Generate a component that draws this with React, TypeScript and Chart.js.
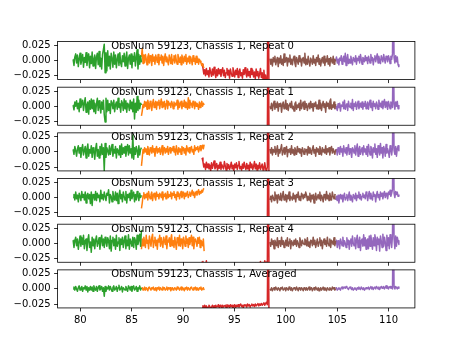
import React, { useEffect, useRef } from "react";
import { Chart, registerables } from "chart.js";

Chart.register(...registerables);

// ---------- figure layout ----------
const FIG_W = 461;
const FIG_H = 346;
const AX_LEFT = 57.6;
const AX_RIGHT = 414.9;
const PANEL_TOP = 41.52;
const PANEL_H = 38.06;
const PANEL_STEP = 45.67;

// ---------- axes ----------
const xMin = 77.79;
const xMax = 112.56;
const yMin = -0.0314;
const yMax = 0.0314;
const xTickValues = [80, 85, 90, 95, 100, 105, 110];
const xTickLabels = ["80", "85", "90", "95", "100", "105", "110"];
const yTickValues = [-0.025, 0, 0.025];
const yTickLabels = ["\u22120.025", "0.000", "0.025"];

const titleX = 83.0;
const panelTitles = [
  "ObsNum 59123, Chassis 1, Repeat 0",
  "ObsNum 59123, Chassis 1, Repeat 1",
  "ObsNum 59123, Chassis 1, Repeat 2",
  "ObsNum 59123, Chassis 1, Repeat 3",
  "ObsNum 59123, Chassis 1, Repeat 4",
  "ObsNum 59123, Chassis 1, Averaged",
];

// ---------- segments (x range of each coloured piece) ----------
const segmentColors = ["#2ca02c", "#ff7f0e", "#d62728", "#8c564b", "#9467bd"];
const segmentStart = [79.3, 85.95, 91.85, 98.45, 104.85];
const segmentEnd = [85.95, 92.05, 98.45, 104.85, 111.0];

// ---------- series values (units of 0.001) ----------
// Repeat 0
const rep0Green = [2, -8, 6, 11, -4, 9, -10, 3, 12, -6, 1, 10, -11, 5, -3, 13, -8, 4, 11, -12, 7, -5, 14, -9, 2, 9, -13, 6, 12, -7, 15, -10, 4, -14, 10, 18, 27, -20, 13, -17, 16, -9, 7, -14, 12, 3, -11, 14, -6, 9, -12, 2, 11, -8, 13, -4, -10, 8, -2, 12, -9, 5, 14, -13, 4, 9, -6, 11, -12, 7, -1, 13, -9, 5, 18, -14, 10, -6, 8, -3];
const rep0Orange = [6, 20, -5, 9, -3, 10, 3, -7, 6, 11, -4, 8, 2, -8, 10, -1, 6, -6, 9, 3, -3, 10, -7, 5, 1, 9, -4, 7, -8, 4, 11, -2, 6, -1, -7, 9, 3, -5, 10, -6, 2, 8, -4, 9, 0, -6, 10, 2, -3, 6, -7, 9, 3, -4, 7, -1, 10, -6, 4, -2, 7, -5, 6, 1, -7, 8, -1, 4, -6, 7, -3, 4, -6, 2, -1, -4, -8, -5, -10, -12];
const rep0Red = [-6, -12, -22, -15, -25, -13, -23, -17, -27, -12, -20, -26, -14, -24, -11, -21, -28, -15, -25, -13, -22, -15, -26, -18, -12, -25, -16, -28, -20, -13, -24, -16, -29, -14, -21, -26, -12, -19, -27, -16, -23, -13, -28, -18, -14, -25, -20, -29, -15, -23, -12, -21, -27, -14, -25, -18, -28, -13, -23, -16, -27, -19, -30, -14, -25, -18, -29, -22, -13, -28, -20, -31, -16, -33, -24, -36, -30, 150, -60, -40];
const rep0Brown = [3, -6, 2, -9, 5, -2, 7, -7, 0, 5, -10, 4, -4, 8, -6, 2, -8, 11, -3, 0, 5, -9, 4, -2, 9, -6, 2, -7, 3, 7, -4, -10, 5, 0, -6, 8, -2, 4, -9, 2, 5, -4, 12, -7, 2, -6, 7, -2, -9, 4, 0, -6, 8, -4, 2, -8, 5, -2, 9, -6, 3, -9, 0, 5, -4, 7, -8, 2, -2, 8, -6, 3, -9, 5, 0, -4, 7, -6, 2, -2];
const rep0Purple = [0, 6, -4, 2, -7, 4, 0, 8, -6, 2, 7, -2, 12, -8, 3, 10, -5, 2, -4, 7, 0, -7, 5, 2, -2, 8, -6, 4, 0, 7, -4, 10, 2, -6, 5, 3, -2, 8, 0, 5, -5, 7, 2, -4, 10, 0, 5, -7, 3, 8, -2, 5, 11, -4, 7, 0, -5, 8, 3, -2, 10, 2, -4, 7, 5, -2, 8, 3, -5, 7, 2, 11, 120, 5, -4, 8, -2, 6, -7, -10];
// Repeat 1
const rep1Green = [2, -6, 7, 0, 9, -4, 5, -9, 12, -2, 4, 10, -7, 5, 14, -10, 2, 7, -13, 9, -5, 12, -4, 10, -9, 5, -12, 4, 13, -7, 9, -2, -11, 7, -5, 10, -14, -26, 13, -9, 10, -7, 4, -12, 9, 5, -4, 10, -9, 2, 7, -5, 13, -2, 4, -10, 9, 5, -7, 12, -4, 9, -10, 5, 2, -7, 10, -4, 7, -9, 12, -21, 5, -10, 16, -7, 10, -4, 5, 2];
const rep1Orange = [-16, -8, 3, -2, 8, 0, 7, -5, 10, 3, -4, 8, 2, -7, 5, 11, -2, 4, 8, -5, 7, 2, 10, -4, 5, 12, -2, 7, 0, 8, -5, 4, 10, -4, 8, 2, 5, -2, 8, 4, -4, 7, 0, 5, 2, 10, -5, 7, -2, 4, 8, -4, 5, 0, 10, -2, 7, 4, -5, 14, -3, 10, 2, 5, -2, 8, 4, -4, 7, 0, 5, 2, -5, 7, -2, 4, 8, 0, 5, 2];
const rep1Red = [-40, -45, -38, -44, -41, -47, -39, -43, -46, -40, -44, -38, -42, -45, -41, -39, -46, -43, -40, -44, -42, -38, -45, -41, -43, -47, -39, -42, -44, -40, -46, -41, -43, -38, -45, -42, -40, -44, -41, -43, -39, -45, -42, -47, -40, -44, -38, -43, -46, -41, -44, -39, -42, -45, -40, -43, -47, -41, -38, -44, -42, -46, -40, -43, -39, -45, -41, -44, -38, -42, -45, -40, -43, -38, -46, -41, -44, 150, -60, -40];
const rep1Brown = [0, -4, 5, -7, 2, 8, -5, 4, -2, 7, -8, 4, 0, 5, -10, 2, 7, -4, 0, 10, -5, 4, -7, 2, 5, -2, 8, -4, 0, -8, 4, 7, -5, 2, -2, 5, -7, 10, -4, 2, 7, -5, 8, -2, 4, -7, 0, 5, -4, 8, -2, 4, -8, 5, 0, 7, -4, 2, -5, 10, -4, 5, -7, 2, 8, -2, 4, -10, 7, 0, 5, -4, 8, 12, -5, 2, -2, 7, -4, 4];
const rep1Purple = [-5, 0, -7, 4, -2, 5, -8, 2, 0, 7, -4, 10, -5, 2, 4, -7, 8, 0, -2, 5, -4, 11, -7, 4, 0, 7, -5, 2, 8, -4, 0, 5, -2, 7, -5, 4, 0, 8, -4, 2, 7, -5, 4, 10, -2, 5, -7, 8, 0, 4, -4, 7, 2, -5, 10, 0, 5, -2, 8, -4, 4, 11, -2, 7, 0, -5, 8, 2, -4, 7, 5, -2, 110, 4, -5, 7, 0, 8, -4, 2];
// Repeat 2
const rep2Green = [4, -4, 9, 2, -7, 5, 10, -2, 7, -9, 4, 12, -5, 2, 9, -10, 5, 13, -7, 4, -2, 10, -9, 7, 2, -12, 5, 14, -7, 4, -10, 9, -5, 13, -4, 7, -31, 14, -9, 7, 2, -5, 10, -4, 5, 12, -7, 4, -2, 9, -10, 5, 2, -5, 10, -9, 13, -4, 7, -2, 9, -7, 4, 12, -5, 10, -2, 5, -10, 28, -12, 7, -4, 9, 2, -9, 10, -5, 4, 7];
const rep2Orange = [-23, -10, 4, -2, 7, 0, 5, -4, 9, 2, -5, 7, 4, -2, 10, 0, 5, -7, 4, 9, -2, 5, 0, 7, -4, 2, 10, -5, 4, 7, -2, 5, 0, 9, -4, 4, 7, -2, 5, 2, 9, 0, 5, -5, 10, 2, -4, 7, 0, 5, -4, 9, 2, 7, -2, 5, -5, 10, 4, 0, 7, -2, 5, 9, 0, 4, -4, 10, 2, 7, 4, 9, 0, 5, 10, 2, 7, 11, 5, 12];
const rep2Red = [-10, -16, -25, -20, -29, -17, -26, -20, -28, -22, -31, -18, -27, -21, -15, -28, -25, -19, -30, -22, -27, -17, -29, -21, -25, -28, -16, -23, -30, -19, -27, -21, -29, -24, -17, -28, -22, -31, -20, -26, -18, -29, -22, -16, -28, -24, -30, -20, -27, -17, -25, -29, -19, -28, -22, -31, -17, -26, -20, -29, -24, -16, -28, -20, -30, -22, -27, -18, -29, -24, -20, -30, -26, -18, -28, -32, -25, 150, -60, -40];
const rep2Brown = [5, -2, 7, -5, 4, 0, 9, -4, 2, 10, -7, 4, -2, 5, 12, -5, 0, 7, -4, 2, 9, -8, 4, 0, 5, -4, 10, -2, 4, -5, 7, 2, -4, 9, 0, 5, -2, 4, -7, 7, 2, -4, 5, 0, 4, -5, 9, -2, 7, 2, -4, 5, 10, -2, 4, -7, 7, 0, 5, -4, 9, 2, -5, 7, 0, 4, -2, 10, -4, 5, 0, 7, -5, 4, 9, -2, 5, 0, -4, 4];
const rep2Purple = [0, 4, -5, 7, 2, -4, 9, 0, 5, -7, 10, 2, -2, 7, -5, 4, 12, -4, 5, 0, -9, 7, 4, -2, 10, -5, 5, 13, -7, 4, 9, -4, 2, 7, -5, 10, 0, 5, -4, 9, -7, 12, 2, -5, 9, 4, -10, 7, 0, 13, -4, 5, -9, 10, 2, -5, 14, -2, 7, -10, 9, 4, -7, 12, -2, 5, 0, -9, 10, 4, -5, 7, 125, 2, -4, 9, -7, 5, 10, 2];
// Repeat 3
const rep3Green = [0, 5, -4, 9, -2, 4, -7, 7, 2, -5, 10, 0, 5, -4, 9, -9, 4, 7, -2, 5, -10, 9, -13, 5, 2, -4, 10, -5, 7, 0, 4, -7, 12, -2, 5, -4, 9, 2, -5, 7, 4, 13, -9, 5, 2, -7, 10, 0, -4, 9, -5, 7, -10, 4, 12, -2, 5, -7, 9, 2, -4, 10, -9, 5, 0, 7, -5, 12, -2, 4, 9, -7, 5, -4, 10, 2, -5, 7, 0, 4];
const rep3Orange = [-18, -9, 3, 8, -2, 5, 0, 7, -4, 10, 2, -2, 5, 9, -5, 4, 7, 0, -4, 9, 2, 5, -2, 7, 4, 0, 9, -4, 5, 2, 7, -2, 4, 10, 0, 5, 2, 9, -2, 7, 4, 10, 0, 5, -4, 9, 2, 7, -2, 5, 10, 0, 4, 9, -2, 7, 2, 5, 10, 0, 5, 9, 2, 7, 12, 4, 9, 0, 7, 10, 4, 9, 13, 5, 10, 7, 12, 9, 14, 15];
const rep3Red = [-43, -47, -41, -46, -44, -49, -42, -45, -48, -43, -46, -40, -44, -47, -42, -45, -48, -43, -41, -46, -44, -49, -42, -45, -43, -47, -41, -44, -46, -42, -48, -45, -43, -40, -46, -44, -42, -47, -43, -45, -41, -44, -47, -42, -46, -43, -49, -41, -45, -44, -42, -46, -40, -45, -43, -48, -44, -41, -47, -43, -45, -42, -46, -44, -48, -41, -43, -47, -42, -45, -44, -40, -46, -43, -41, -45, -44, 150, -60, -40];
const rep3Brown = [-4, 2, -7, 4, 0, -5, 9, -2, 4, -9, 5, 0, -4, 7, -5, 2, 10, -4, 0, 5, -7, 4, -2, 9, -5, 2, 0, -4, 7, -2, 4, -7, 5, 0, 9, -4, 2, -5, 7, 4, -2, 5, 0, 9, 4, -5, 2, -4, 7, -7, 4, -2, 5, -9, 2, 7, -4, 0, 5, -2, 9, -5, 4, 0, -7, 5, 2, -4, 10, -2, 4, -5, 7, 0, -4, 9, 2, -2, 5, 4];
const rep3Purple = [-4, 2, -5, 4, -9, 0, 5, -2, 4, -7, 2, 7, -4, 0, 5, -5, 2, 9, -4, 4, 0, -7, 5, 2, -2, 7, -5, 4, 0, 9, -2, 5, -4, 2, 7, 0, 4, -2, 9, 5, -5, 4, 10, -2, 7, 0, -4, 9, 2, 5, -7, 4, 10, 0, 5, -4, 9, 2, 7, -2, 5, 10, 0, 7, 4, -2, 9, 5, 12, 2, 7, 13, 130, 7, 0, 10, 5, 9, 2, 5];
// Repeat 4
const rep4Green = [5, -7, 4, 10, -4, 7, -10, 2, 12, -5, 9, -2, 13, -9, 4, 7, -12, 5, 14, -7, 2, -15, 10, -4, 7, -9, 5, 12, -5, 2, 9, -10, 4, 13, -4, 7, -7, 10, 2, -5, 9, 4, -9, 12, -13, 5, 10, -4, 7, -10, 13, -5, 2, 9, -12, 7, -2, 10, -7, 4, 12, -9, 5, -4, 14, -10, 7, 2, -5, 10, -7, 9, 4, -10, 13, -2, 5, 15, -5, 22];
const rep4Orange = [-10, 7, -4, 10, 2, -7, 13, 0, 5, -9, 12, 4, -5, 9, 15, -7, 4, 10, -4, 5, -10, 7, 2, 13, -5, 9, 0, -7, 10, 4, -2, 12, -9, 5, 2, 9, -5, 7, 14, -4, 4, -7, 10, 0, -10, 9, 5, -4, 13, -5, 7, 2, -9, 10, 4, -5, 12, 0, 7, -7, 9, -2, 5, 13, -4, 10, -9, 4, 7, 2, -5, 9, 0, 10, -7, 5, 2, -4, 7, -13];
const rep4Red = [-30, -38, -35, -41, -36, -29, -42, -37, -40, -36, -38, -43, -35, -39, -41, -37, -40, -36, -42, -38, -34, -39, -41, -37, -40, -38, -43, -36, -39, -35, -41, -38, -40, -36, -39, -37, -42, -35, -38, -33, -40, -36, -42, -38, -35, -41, -37, -39, -43, -36, -38, -34, -40, -37, -41, -35, -39, -42, -36, -38, -41, -37, -33, -39, -36, -40, -34, -38, -30, -35, -37, -32, -36, -29, -34, -31, -35, 150, -60, -40];
const rep4Brown = [2, -5, 7, -2, 4, -9, 5, 0, -4, 9, -7, 4, 2, -5, 10, -2, 4, -7, 0, 5, -4, 9, -5, 2, 7, -9, 4, 0, -4, 5, -2, 7, -5, 4, 0, -7, 9, 2, -4, 5, 0, -2, 7, 4, -4, 9, -5, 2, -7, 5, 4, -4, 10, -2, 5, -7, 0, 7, -5, 2, 9, -4, 5, -9, 2, 7, -2, 4, -5, 10, 0, -4, 7, -7, 5, 2, -2, 9, -4, 4];
const rep4Purple = [-2, 5, -7, 4, 0, -9, 7, 2, -4, 10, -5, 4, 0, -7, 9, -2, 5, -10, 4, 7, -5, 12, 0, -4, 9, -9, 5, 13, -7, 2, 10, -12, 4, 7, -5, 14, -4, 9, -10, 5, 7, -9, 12, -5, 13, 2, -10, 9, -4, 14, 5, -12, 10, -2, 7, -13, 12, 4, -7, 15, -5, 10, 2, -12, 13, -4, 9, -9, 14, 4, -7, 12, 140, 7, -9, 12, -5, 10, 4, -2];
// Averaged
const avgGreen = [0, 3, -2, 4, 0, -4, 2, 5, -2, 1, 4, -4, 2, 0, 5, -2, 4, -5, 2, -2, 4, -2, 3, -4, 5, 0, -2, 4, -4, 2, 5, -2, 0, 4, -4, 2, -12, 4, -4, 2, 0, 5, -2, 4, 0, -4, 2, 5, -2, 0, 4, -4, 2, 6, -2, 0, 4, -5, 2, 0, -2, 4, 0, -4, 5, 2, -2, 4, -4, 2, 5, -2, 0, 4, -4, 2, 0, 5, -2, 2];
const avgOrange = [0, 2, -2, 0, 3, -2, 2, 0, -3, 2, 3, 0, -2, 2, 0, 3, -2, 0, 2, -3, 2, 0, 3, -2, 2, 0, -2, 3, 0, 2, -2, 0, 3, -2, 2, 0, 2, -3, 0, 2, -2, 0, 2, 0, -2, 3, 0, 2, -2, 0, 3, -2, 2, 0, -3, 2, 0, 3, -2, 2, 0, -2, 2, 3, 0, -2, 2, 0, 3, -2, 2, 0, -2, 2, 0, 3, -2, 0, 2, -2];
const avgRed = [-31, -28, -32, -27, -31, -28, -33, -30, -27, -29, -32, -30, -27, -31, -28, -32, -27, -30, -29, -26, -31, -27, -29, -32, -27, -30, -28, -27, -31, -26, -29, -27, -31, -26, -29, -27, -32, -29, -26, -31, -27, -29, -26, -30, -27, -25, -29, -27, -31, -26, -28, -26, -30, -25, -28, -26, -30, -27, -25, -28, -26, -29, -25, -28, -26, -24, -28, -25, -27, -24, -27, -25, -23, -27, -24, -22, -26, 150, -60, -40];
const avgBrown = [0, -2, 2, -3, 0, 2, -2, 3, 0, -2, 2, 0, -3, 2, 0, 3, -2, 0, 2, -3, 2, 0, -2, 3, 0, -2, 2, -3, 0, 2, 0, -2, 3, 0, -3, 2, 0, -2, 2, 0, -3, 2, 0, -2, 2, -2, 0, 3, -2, 0, 2, -3, 0, 2, -2, 3, 0, -2, 2, -3, 0, 2, -2, 0, 3, -2, 2, 0, -3, 2, 0, -2, 2, 0, -2, 3, 0, 2, -2, 0];
const avgPurple = [0, 2, -2, 0, 2, 0, -2, 2, 3, 0, 2, 3, 1, 4, 2, 1, -1, 2, 3, 1, -1, 2, -2, 0, 2, 0, -2, 2, 0, 3, 1, -1, 3, 1, -1, 2, -2, 0, 2, 0, 1, 3, -1, 2, 4, 0, 3, -1, 2, 3, 0, 4, 2, 0, 3, -1, 2, 4, 1, 3, 4, 0, 2, 5, 1, 4, 0, 3, 4, 1, 3, 0, 130, 3, 0, 4, 2, 0, 3, 1];

const panelSeries: number[][][] = [
  [rep0Green, rep0Orange, rep0Red, rep0Brown, rep0Purple],
  [rep1Green, rep1Orange, rep1Red, rep1Brown, rep1Purple],
  [rep2Green, rep2Orange, rep2Red, rep2Brown, rep2Purple],
  [rep3Green, rep3Orange, rep3Red, rep3Brown, rep3Purple],
  [rep4Green, rep4Orange, rep4Red, rep4Brown, rep4Purple],
  [avgGreen, avgOrange, avgRed, avgBrown, avgPurple],
];

const FONT = '"DejaVu Sans", "Liberation Sans", sans-serif';
const X_AXIS_BOX = 30;

function Panel({ index }: { index: number }) {
  const ref = useRef<HTMLCanvasElement>(null);

  useEffect(() => {
    if (!ref.current) return;
    const top = PANEL_TOP + index * PANEL_STEP;
    const bottom = top + PANEL_H;
    const isLast = index === panelSeries.length - 1;

    const datasets = panelSeries[index].map((vals, s) => ({
      data: vals.map((v, i) => ({
        x: segmentStart[s] + ((segmentEnd[s] - segmentStart[s]) * i) / (vals.length - 1),
        y: v * 0.001,
      })),
      borderColor: segmentColors[s],
      backgroundColor: segmentColors[s],
      borderWidth: 1.5,
      borderJoinStyle: "round" as const,
      pointRadius: 0,
      fill: false,
      tension: 0,
      clip: 0,
    }));

    const framePlugin = {
      id: "frame" + index,
      afterDatasetsDraw(chart: any) {
        const { ctx, chartArea: a, scales } = chart;
        ctx.save();
        ctx.strokeStyle = "#000";
        ctx.lineWidth = 0.8;
        ctx.strokeRect(a.left, a.top, a.right - a.left, a.bottom - a.top);
        ctx.fillStyle = "#000";
        ctx.font = `10px ${FONT}`;
        ctx.textAlign = "left";
        ctx.textBaseline = "alphabetic";
        ctx.fillText(panelTitles[index], scales.x.getPixelForValue(titleX), a.top + 7.6);
        ctx.restore();
      },
    };

    const chart = new Chart(ref.current, {
      type: "line",
      data: { datasets },
      options: {
        animation: false,
        responsive: false,
        devicePixelRatio: 1,
        events: [],
        layout: {
          padding: {
            left: 0,
            right: FIG_W - AX_RIGHT,
            top: top,
            bottom: FIG_H - bottom - X_AXIS_BOX,
          },
        },
        plugins: {
          legend: { display: false },
          tooltip: { enabled: false },
          title: { display: false },
        },
        scales: {
          x: {
            type: "linear",
            min: xMin,
            max: xMax,
            afterBuildTicks: (scale: any) => {
              scale.ticks = xTickValues.map((v) => ({ value: v }));
            },
            afterFit: (scale: any) => {
              scale.height = X_AXIS_BOX;
            },
            border: { display: false },
            grid: {
              drawOnChartArea: false,
              drawTicks: true,
              tickLength: 3.5,
              color: "#000",
              lineWidth: 0.8,
            },
            ticks: {
              autoSkip: false,
              maxRotation: 0,
              minRotation: 0,
              padding: 2.5,
              color: isLast ? "#000" : "rgba(0,0,0,0)",
              font: { family: FONT, size: 10 },
              callback: (value: any) => {
                const k = xTickValues.indexOf(Number(value));
                return k >= 0 ? xTickLabels[k] : "";
              },
            },
          },
          y: {
            type: "linear",
            min: yMin,
            max: yMax,
            afterBuildTicks: (scale: any) => {
              scale.ticks = yTickValues.map((v) => ({ value: v }));
            },
            afterFit: (scale: any) => {
              scale.width = AX_LEFT;
            },
            border: { display: false },
            grid: {
              drawOnChartArea: false,
              drawTicks: true,
              tickLength: 3.5,
              color: "#000",
              lineWidth: 0.8,
            },
            ticks: {
              autoSkip: false,
              padding: 3.5,
              color: "#000",
              font: { family: FONT, size: 10 },
              callback: (value: any) => {
                const k = yTickValues.findIndex((t) => Math.abs(t - Number(value)) < 1e-9);
                return k >= 0 ? yTickLabels[k] : "";
              },
            },
          },
        },
      } as any,
      plugins: [framePlugin],
    });

    return () => chart.destroy();
  }, [index]);

  return (
    <canvas
      ref={ref}
      width={FIG_W}
      height={FIG_H}
      style={{ position: "absolute", left: 0, top: 0, width: FIG_W, height: FIG_H }}
    />
  );
}

export default function App() {
  return (
    <div
      style={{
        position: "fixed",
        left: 0,
        top: 0,
        width: FIG_W,
        height: FIG_H,
        background: "#fff",
        overflow: "hidden",
      }}
    >
      {panelSeries.map((_, i) => (
        <Panel key={i} index={i} />
      ))}
    </div>
  );
}
